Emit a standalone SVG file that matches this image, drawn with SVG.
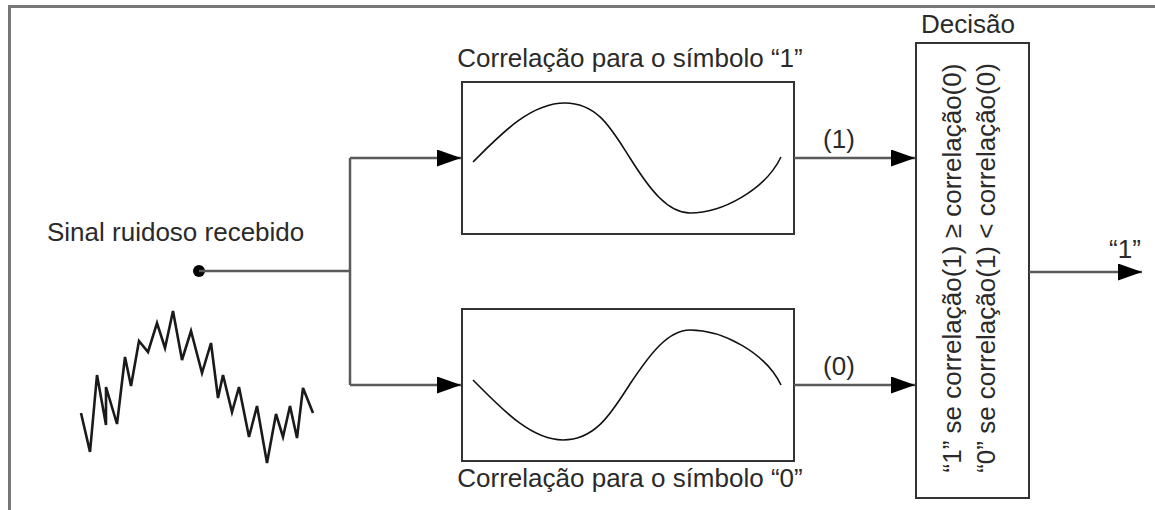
<svg xmlns="http://www.w3.org/2000/svg" width="1155" height="510" viewBox="0 0 1155 510">
<style>
text{font-family:"Liberation Sans",Arial,sans-serif;font-size:26px;fill:#2a2a2a}
.box{fill:#fff;stroke:#333;stroke-width:2}
.wire{fill:none;stroke:#5a5a5a;stroke-width:2.5}
.curve{fill:none;stroke:#111;stroke-width:1.6}
.noise{fill:none;stroke:#1a1a1a;stroke-width:2.6}
</style>
<defs>
<marker id="ah" markerUnits="userSpaceOnUse" markerWidth="26" markerHeight="18" refX="24" refY="8.5" orient="auto">
<path d="M0,0 L24,8.5 L0,17 Z" fill="#000"/>
</marker>
</defs>
<rect width="1155" height="510" fill="#fff"/>
<path d="M9.5,510 V6.5 H1155" fill="none" stroke="#777" stroke-width="3"/>
<g id="input">
<text x="47" y="241">Sinal ruidoso recebido</text>
<circle cx="199" cy="271" r="6" fill="#000"/>
<polyline class="noise" points="81,413 90,452 97,375 106,425 106,387 117,424 125,357 131,386 139,341 148,352 157,323 165,348 173,311 182,360 191,331 202,373 211,343 218,398 223,375 232,412 239,387 249,437 257,406 267,463 276,414 283,437 290,406 297,438 303,388 313,413"/>
</g>
<g id="corr1">
<text x="630" y="67" text-anchor="middle">Correlação para o símbolo “1”</text>
<rect class="box" x="462" y="82" width="332" height="152"/>
<path class="curve" d="M473,162 C500,135 530,103 565,103 C598,103 612,130 630,158 C650,190 668,213 690,213 C722,213 765,190 781,157"/>
</g>
<g id="corr0">
<rect class="box" x="462" y="309" width="332" height="152"/>
<path class="curve" d="M473,380 C500,407 530,440 563,440 C596,440 612,412 630,384 C650,354 668,330 690,330 C722,330 765,352 781,385"/>
<text x="630" y="487" text-anchor="middle">Correlação para o símbolo “0”</text>
</g>
<g id="decision">
<text x="968" y="33" text-anchor="middle">Decisão</text>
<rect class="box" x="916" y="43" width="113" height="455"/>
<text transform="translate(961,268) rotate(-90)" text-anchor="middle">“1” se correlação(1) ≥ correlação(0)</text>
<text transform="translate(995,268) rotate(-90)" text-anchor="middle">“0” se correlação(1) &lt; correlação(0)</text>
</g>
<g id="connectors">
<path class="wire" d="M199,271 H350"/>
<path class="wire" d="M350,158 V385"/>
<path class="wire" d="M350,158 H461" marker-end="url(#ah)"/>
<path class="wire" d="M350,385 H461" marker-end="url(#ah)"/>
<path class="wire" d="M794,158 H915" marker-end="url(#ah)"/>
<path class="wire" d="M794,385 H915" marker-end="url(#ah)"/>
<path class="wire" d="M1029,272 H1142" marker-end="url(#ah)"/>
<text x="839" y="148" text-anchor="middle">(1)</text>
<text x="839" y="375" text-anchor="middle">(0)</text>
<text x="1125" y="258" text-anchor="middle">“1”</text>
</g>
</svg>
